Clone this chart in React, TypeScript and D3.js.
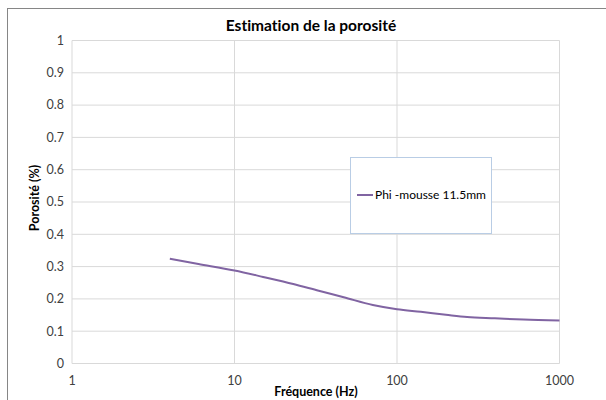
import React from "react";
import * as d3 from "d3";

const freqHz = [4, 6, 10, 15, 23, 33, 47, 71, 100, 140, 200, 270, 400, 600, 1000];
const porosity = [0.324, 0.308, 0.288, 0.268, 0.246, 0.225, 0.205, 0.181, 0.168, 0.16, 0.151, 0.144, 0.14, 0.136, 0.133];
const xTicks = [1, 10, 100, 1000];
const yTicks = [0, 0.1, 0.2, 0.3, 0.4, 0.5, 0.6, 0.7, 0.8, 0.9, 1];
const seriesName = "Phi -mousse 11.5mm";
const title = "Estimation de la porosité";
const xLabel = "Fréquence (Hz)";
const yLabel = "Porosité (%)";

const W = 606;
const H = 400;
const plot = { left: 72, right: 559.5, top: 40.5, bottom: 363.5 };
const FONT = "Lato, 'Open Sans', sans-serif";

export default function App() {
  const x = d3.scaleLog().domain([1, 1000]).range([plot.left, plot.right]);
  const y = d3.scaleLinear().domain([0, 1]).range([plot.bottom, plot.top]);
  const pts = freqHz.map((f, i) => [f, porosity[i]] as [number, number]);
  const line = d3
    .line<[number, number]>()
    .x((d) => x(d[0]))
    .y((d) => y(d[1]))
    .curve(d3.curveMonotoneX);

  return (
    <svg
      width={W}
      height={H}
      style={{ position: "absolute", left: 0, top: 0, background: "#fff", fontVariantLigatures: "none" }}
      fontFamily={FONT}
    >
      <rect x={7.5} y={8.5} width={W} height={H} fill="#fff" stroke="#868686" strokeWidth={1} />
      {yTicks.map((t) => (
        <line key={"gy" + t} x1={plot.left} x2={plot.right} y1={y(t)} y2={y(t)} stroke="#d9d9d9" strokeWidth={1} />
      ))}
      {xTicks.map((t) => (
        <line key={"gx" + t} x1={x(t)} x2={x(t)} y1={plot.top} y2={plot.bottom} stroke="#d9d9d9" strokeWidth={1} />
      ))}
      {yTicks.map((t) => (
        <text key={"ty" + t} x={plot.left - 8} y={y(t)} dy="0.35em" textAnchor="end" fontSize={12.5} fill="#404040">
          {d3.format("")(t)}
        </text>
      ))}
      {xTicks.map((t) => (
        <text key={"tx" + t} x={x(t)} y={plot.bottom + 17} dy="0.35em" textAnchor="middle" fontSize={12.5} fill="#404040">
          {t}
        </text>
      ))}
      <path d={line(pts) || ""} fill="none" stroke="#8064a2" strokeWidth={2} />
      <text x={311} y={26} dy="0.35em" textAnchor="middle" fontSize={15.5} fontWeight="bold" fill="#000">
        {title}
      </text>
      <text x={316} y={392} dy="0.35em" textAnchor="middle" fontSize={12.5} fontWeight="bold" fill="#000">
        {xLabel}
      </text>
      <text
        transform={`translate(35,198) rotate(-90)`}
        dy="0.35em"
        textAnchor="middle"
        fontSize={12.5}
        fontWeight="bold"
        fill="#000"
      >
        {yLabel}
      </text>
      <rect x={350.5} y={157.5} width={141} height={76} fill="#fff" stroke="#b9cde5" strokeWidth={1} />
      <line x1={357} x2={373} y1={195} y2={195} stroke="#8064a2" strokeWidth={2} />
      <text x={375} y={195} dy="0.35em" fontSize={12} fill="#000">
        {seriesName}
      </text>
    </svg>
  );
}
